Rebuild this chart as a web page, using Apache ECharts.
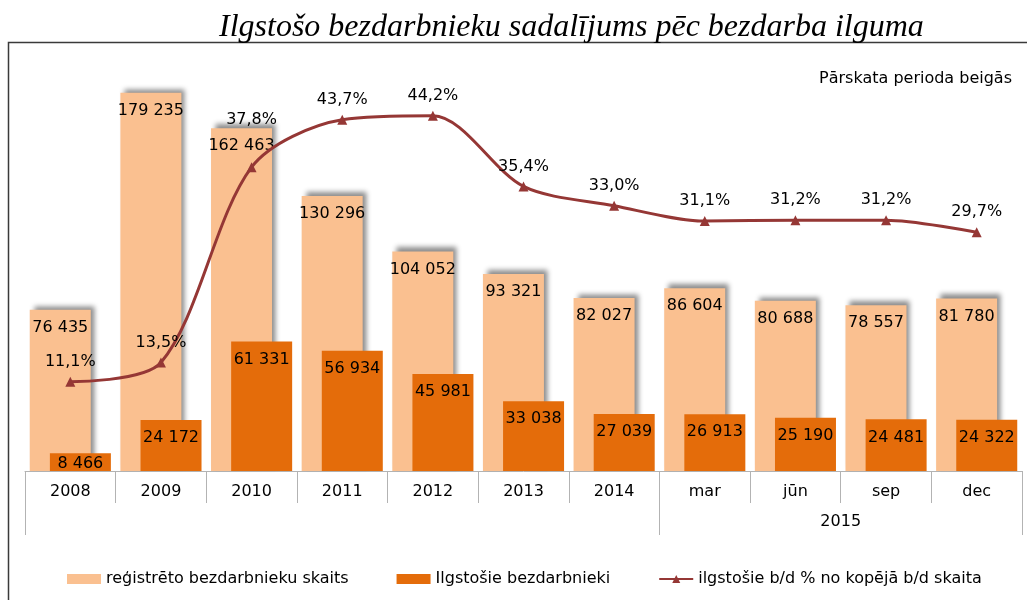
<!DOCTYPE html>
<html>
<head>
<meta charset="utf-8">
<script src="https://cdn.jsdelivr.net/npm/echarts@6/dist/echarts.min.js"></script>
<style>
  html, body { margin: 0; padding: 0; background: #fff; }
  #chart { width: 1027px; height: 600px; }
</style>
</head>
<body>
<div id="chart"></div>
<script>
// kategorijas (2015 ceturkšņi grupēti zem "2015")
const categories = ['2008', '2009', '2010', '2011', '2012', '2013', '2014', 'mar', 'jūn', 'sep', 'dec'];
const groupLabel = '2015';
const groupStart = 7; // 'mar'
const registered = [76435, 179235, 162463, 130296, 104052, 93321, 82027, 86604, 80688, 78557, 81780];
const longTerm = [8466, 24172, 61331, 56934, 45981, 33038, 27039, 26913, 25190, 24481, 24322];
const longTermShare = [11.1, 13.5, 37.8, 43.7, 44.2, 35.4, 33.0, 31.1, 31.2, 31.2, 29.7];

const FONT = 'DejaVu Sans';
const fmtNum = v => String(v).replace(/\B(?=(\d{3})+(?!\d))/g, ' ');
const fmtPct = v => v.toFixed(1).replace('.', ',') + '%';

const chart = echarts.init(document.getElementById('chart'));

const option = {
  animation: false,
  backgroundColor: '#fff',
  textStyle: { fontFamily: FONT },
  title: [
    {
      text: 'Ilgstošo bezdarbnieku sadalījums pēc bezdarba ilguma',
      left: 214,
      top: 7,
      textStyle: { fontFamily: 'Liberation Serif', fontStyle: 'italic', fontWeight: 'normal', fontSize: 32, color: '#000' }
    },
    {
      text: 'Pārskata perioda beigās',
      right: 10,
      top: 66,
      textStyle: { fontFamily: FONT, fontWeight: 'normal', fontSize: 16, color: '#000' }
    }
  ],
  grid: { left: 25, right: 5, top: 49, bottom: 129 },
  legend: {
    left: 62,
    top: 566,
    itemWidth: 34,
    itemHeight: 10,
    itemGap: 48,
    textStyle: { fontFamily: FONT, fontSize: 16, color: '#000' },
    data: [
      { name: 'reģistrēto bezdarbnieku skaits', icon: 'rect' },
      { name: 'Ilgstošie bezdarbnieki', icon: 'rect' },
      { name: 'ilgstošie b/d % no kopējā b/d skaita' }
    ]
  },
  xAxis: {
    type: 'category',
    data: categories,
    axisLine: { lineStyle: { color: '#b3b3b3', width: 1 } },
    axisTick: { show: true, interval: 0, length: 32, lineStyle: { color: '#b3b3b3' } },
    axisLabel: { interval: 0, fontFamily: FONT, fontSize: 16, color: '#000', margin: 13 }
  },
  yAxis: [
    { type: 'value', min: 0, max: 200000, show: false, splitLine: { show: false } },
    { type: 'value', min: 0, max: 52.5, show: false, splitLine: { show: false } }
  ],
  series: [
    {
      name: 'reģistrēto bezdarbnieku skaits',
      type: 'bar',
      data: registered,
      barWidth: 61,
      barGap: '-67%',
      itemStyle: {
        color: '#FAC090',
        shadowColor: 'rgba(0,0,0,0.45)',
        shadowBlur: 5,
        shadowOffsetX: 4,
        shadowOffsetY: -4
      },
      label: {
        show: true,
        position: 'insideTop',
        distance: 10,
        fontFamily: FONT,
        fontSize: 16,
        color: '#000',
        formatter: p => fmtNum(p.value)
      }
    },
    {
      name: 'Ilgstošie bezdarbnieki',
      type: 'bar',
      data: longTerm.map((v, i) => i === 0 ? { value: v, label: { offset: [0, -7] } } : v),
      barWidth: 61,
      itemStyle: { color: '#E46C0A' },
      label: {
        show: true,
        position: 'insideTop',
        distance: 10,
        fontFamily: FONT,
        fontSize: 16,
        color: '#000',
        formatter: p => fmtNum(p.value)
      }
    },
    {
      name: 'ilgstošie b/d % no kopējā b/d skaita',
      type: 'line',
      yAxisIndex: 1,
      data: longTermShare.map((v, i) => i === 2 ? { value: v, label: { offset: [0, -27] } } : v),
      smooth: 0.3,
      symbol: 'triangle',
      symbolSize: 10,
      z: 5,
      lineStyle: { color: '#953735', width: 3 },
      itemStyle: { color: '#953735' },
      label: {
        show: true,
        position: 'top',
        distance: 7,
        fontFamily: FONT,
        fontSize: 16,
        color: '#000',
        formatter: p => fmtPct(p.value)
      }
    }
  ],
  graphic: [
    {
      id: 'frame',
      type: 'rect',
      shape: { x: 8.5, y: 42.5, width: 1030, height: 580 },
      style: { fill: 'none', stroke: '#3a3a3a', lineWidth: 1.5 },
      silent: true
    }
  ]
};

chart.setOption(option);

// otrā līmeņa ass: garās atdalītājlīnijas un "2015"
const c0 = chart.convertToPixel({ xAxisIndex: 0 }, 0);
const c1 = chart.convertToPixel({ xAxisIndex: 0 }, 1);
const step = c1 - c0;
const y0 = chart.convertToPixel({ yAxisIndex: 0 }, 0);
const edge = i => c0 - step / 2 + i * step;
const bounds = [0, groupStart, categories.length];
const extra = bounds.map((b, i) => ({
  id: 'sep' + i,
  type: 'line',
  shape: { x1: Math.round(edge(b)) + 0.5, y1: y0, x2: Math.round(edge(b)) + 0.5, y2: y0 + 64 },
  style: { stroke: '#b3b3b3', lineWidth: 1 },
  silent: true
}));
extra.push({
  id: 'group',
  type: 'text',
  x: (edge(groupStart) + edge(categories.length)) / 2,
  y: y0 + 51,
  style: { text: groupLabel, font: '16px "DejaVu Sans"', fill: '#000', align: 'center', verticalAlign: 'middle' },
  silent: true
});
chart.setOption({ graphic: extra });
</script>
</body>
</html>
